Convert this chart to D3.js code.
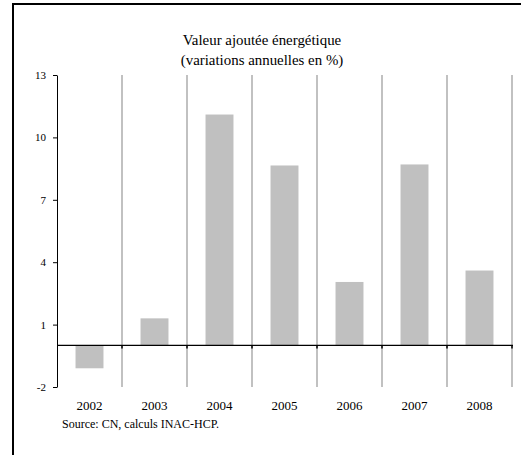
<!DOCTYPE html>
<html lang="fr">
<head>
  <meta charset="UTF-8">
  <title>Valeur ajoutée énergétique</title>
  <style>
    body { margin: 0; background: #fff; }
    svg, svg text { font-family: "Liberation Serif", "Times New Roman", serif; fill: #000; }
    .bar { fill: #c0c0c0; }
    .grid line { stroke: #a0a0a0; stroke-width: 1.3; }
    .axis path, .axis line { stroke: #000; }
  </style>
</head>
<body>
  <script src="https://d3js.org/d3.v7.min.js"></script>
  <script>
    const SVGWIDTH = 521;
    const SVGHEIGHT = 455;
    const margin = {top: 75, left: 57, right: 9, bottom: 68};
    const innerWidth = SVGWIDTH - margin.left - margin.right;
    const innerHeight = SVGHEIGHT - margin.top - margin.bottom;
    const FONT = '"Liberation Serif", "Times New Roman", serif';

    const years = ['2002', '2003', '2004', '2005', '2006', '2007', '2008'];
    const values = [-1.1, 1.3, 11.1, 8.65, 3.05, 8.7, 3.6];
    const yTicks = [-2, 1, 4, 7, 10, 13];
    const titleLines = ['Valeur ajoutée énergétique', '(variations annuelles en %)'];
    const source = 'Source: CN, calculs INAC-HCP.';

    const svg = d3.select('body').append('svg')
      .attr('width', SVGWIDTH)
      .attr('height', SVGHEIGHT)
      .attr('font-family', FONT);

    // frame (left and top edges only)
    svg.append('path')
      .attr('d', `M13,${SVGHEIGHT} L13,4 L${SVGWIDTH},4`)
      .attr('fill', 'none')
      .attr('stroke', '#000')
      .attr('stroke-width', 2);

    const yScale = d3.scaleLinear()
      .domain([-2, 13])
      .range([innerHeight, 0]);

    const xScale = d3.scaleBand()
      .domain(years)
      .range([0, innerWidth])
      .padding(0);

    const barW = xScale.bandwidth() * 0.43;

    const main = svg.append('g')
      .attr('transform', `translate(${margin.left},${margin.top})`);

    // vertical separators between categories
    main.append('g').attr('class', 'grid')
      .selectAll('line')
      .data(years)
      .enter()
      .append('line')
      .attr('x1', d => xScale(d) + xScale.bandwidth())
      .attr('x2', d => xScale(d) + xScale.bandwidth())
      .attr('y1', 0)
      .attr('y2', innerHeight);

    // bars
    main.selectAll('rect.bar')
      .data(values)
      .enter()
      .append('rect')
      .attr('class', 'bar')
      .attr('x', (d, i) => xScale(years[i]) + (xScale.bandwidth() - barW) / 2)
      .attr('width', barW)
      .attr('y', d => yScale(Math.max(0, d)))
      .attr('height', d => Math.abs(yScale(d) - yScale(0)));

    // y axis
    const yAxis = d3.axisLeft(yScale)
      .tickValues(yTicks)
      .tickFormat(d => String(d))
      .tickSizeInner(4)
      .tickSizeOuter(0)
      .tickPadding(7);
    main.append('g').attr('class', 'axis')
      .call(yAxis)
      .attr('font-family', FONT)
      .attr('font-size', 11);

    // zero line with small ticks at separators
    const zeroAxis = main.append('g').attr('class', 'axis')
      .attr('transform', `translate(0,${yScale(0)})`);
    zeroAxis.append('line')
      .attr('x1', 0).attr('x2', innerWidth + 1)
      .attr('stroke', '#000').attr('stroke-width', 1.2);
    zeroAxis.selectAll('line.tk')
      .data(years)
      .enter()
      .append('line')
      .attr('class', 'tk')
      .attr('x1', d => xScale(d) + xScale.bandwidth())
      .attr('x2', d => xScale(d) + xScale.bandwidth())
      .attr('y1', 0).attr('y2', 3)
      .attr('stroke', '#000').attr('stroke-width', 1.5);

    // category labels below the plot
    main.selectAll('text.year')
      .data(years)
      .enter()
      .append('text')
      .attr('class', 'year')
      .attr('x', d => xScale(d) + xScale.bandwidth() / 2)
      .attr('y', innerHeight + 23)
      .attr('text-anchor', 'middle')
      .style('font-size', '13px')
      .text(d => d);

    // title
    svg.append('text')
      .attr('x', 262)
      .attr('y', 45)
      .attr('text-anchor', 'middle')
      .style('font-size', '14.9px')
      .selectAll('tspan')
      .data(titleLines)
      .enter()
      .append('tspan')
      .attr('x', 262)
      .attr('dy', (d, i) => i === 0 ? 0 : 20)
      .text(d => d);

    // source note
    svg.append('text')
      .attr('x', 62)
      .attr('y', 428)
      .style('font-size', '12px')
      .text(source);
  </script>
</body>
</html>
